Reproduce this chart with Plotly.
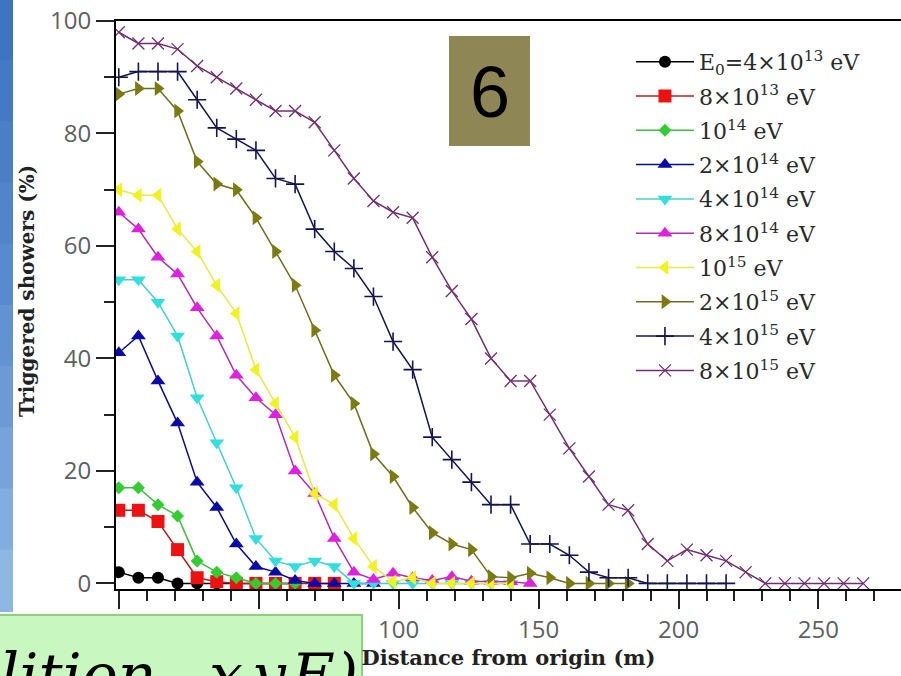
import plotly.graph_objects as go

# ---------------- data ----------------
distance_m = [0, 7, 14, 21, 28, 35, 42, 49, 56, 63, 70, 77, 84, 91, 98, 105, 112,
              119, 126, 133, 140, 147, 154, 161, 168, 175, 182, 189, 196, 203, 210,
              217, 224, 231, 238, 245, 252, 259, 266]

e4e13 = [2, 1, 1, 0, 0, 0, 0, 0, 0, 0]
e8e13 = [13, 13, 11, 6, 1, 0.3, 0, 0, 0, 0, 0, 0]
e1e14 = [17, 17, 14, 12, 4, 2, 1, 0, 0, 0]
e2e14 = [41, 44, 36, 28.5, 18, 13.5, 7, 3, 2, 0.5, 0, 0, 0, 0]
e4e14 = [54, 54, 50, 44, 33, 25, 17, 8, 4, 3, 4, 3, 0, 0, 0, 0, 0, 0, 0, 0, 0]
e8e14 = [66, 63, 58, 55, 49, 44, 37, 33, 30, 20, 16, 8, 2, 0.7, 1.8, 1, 0.5, 1.2,
         0.4, 0.4, 0.3, 0]
e1e15 = [70, 69, 69, 63, 59, 53, 48, 38, 32, 26, 16, 14, 8, 3, 0.3, 1, 0, 0, 0, 0, 0]
e2e15 = [87, 88, 88, 84, 75, 71, 70, 65, 59, 53, 45, 37, 32, 23, 19, 13.5, 9, 7, 6,
         1.2, 1, 1.8, 1, 0, 0, 0, 0]
e4e15 = [90, 91, 91, 91, 86, 81, 79, 77, 72, 71, 63, 59, 56, 51, 43, 38, 26, 22, 18,
         14, 14, 7, 7, 5, 2, 1, 1, 0, 0, 0, 0, 0]
e8e15 = [98, 96, 96, 95, 92, 90, 88, 86, 84, 84, 82, 77, 72, 68, 66, 65, 58, 52, 47,
         40, 36, 36, 30, 24, 19, 14, 13, 7, 4, 6, 5, 4, 2, 0, 0, 0, 0, 0, 0]

series_names = ["E<sub>0</sub>=4×10<sup>13</sup> eV", "8×10<sup>13</sup> eV",
                "10<sup>14</sup> eV", "2×10<sup>14</sup> eV", "4×10<sup>14</sup> eV",
                "8×10<sup>14</sup> eV", "10<sup>15</sup> eV", "2×10<sup>15</sup> eV",
                "4×10<sup>15</sup> eV", "8×10<sup>15</sup> eV"]
series_values = [e4e13, e8e13, e1e14, e2e14, e4e14, e8e14, e1e15, e2e15, e4e15, e8e15]

x_ticks = [0, 50, 100, 150, 200, 250]
y_ticks = [0, 20, 40, 60, 80, 100]

# ---------------- styles ----------------
styles = [
    dict(color="#000000", line="#000000", symbol="circle", size=12, lw=0),
    dict(color="#ee1111", line="#b02020", symbol="square", size=13, lw=0),
    dict(color="#33cc33", line="#44bb44", symbol="diamond", size=10, lw=0),
    dict(color="#0a0aa8", line="#0a0a90", symbol="triangle-up", size=13, lw=0),
    dict(color="#33dede", line="#44d0d0", symbol="triangle-down", size=13, lw=0),
    dict(color="#e020e0", line="#b030b0", symbol="triangle-up", size=13, lw=0),
    dict(color="#f2f222", line="#e8e84a", symbol="triangle-left", size=13, lw=0),
    dict(color="#7b7b12", line="#6e6e20", symbol="triangle-right", size=13, lw=0),
    dict(color="#141450", line="#141450", symbol="cross-thin", size=13, lw=1.6),
    dict(color="#703070", line="#703070", symbol="x-thin", size=12, lw=1.3),
]

fig = go.Figure()
for name, vals, st in zip(series_names, series_values, styles):
    marker = dict(color=st["color"], symbol=st["symbol"], size=st["size"])
    if st["lw"]:
        marker["line"] = dict(color=st["color"], width=st["lw"])
    fig.add_trace(go.Scatter(
        x=distance_m[:len(vals)], y=vals, mode="lines+markers", name=name,
        legendgroup=name,
        line=dict(color=st["line"], width=1.5),
        marker=marker,
    ))

fig.update_layout(
    width=901, height=676,
    margin=dict(l=116, r=0, t=21, b=87),
    paper_bgcolor="white", plot_bgcolor="white",
    showlegend=True,
    legend=dict(x=0.656, y=0.965, xanchor="left", yanchor="top",
                bgcolor="rgba(0,0,0,0)", itemwidth=58, tracegroupgap=2.7,
                font=dict(family="DejaVu Serif", size=22, color="#2a2a2a")),
    xaxis=dict(range=[-1.0, 279.5], showgrid=False, zeroline=False,
               showline=True, linecolor="black", linewidth=2, mirror=True,
               tickmode="array", tickvals=x_ticks,
               ticks="outside", ticklen=18, tickwidth=2, tickcolor="#222",
               minor=dict(dtick=10, ticks="outside", ticklen=10, tickwidth=2,
                          tickcolor="#222", showgrid=False),
               tickfont=dict(family="Open Sans", size=24, color="#5f5f5f"),
               title=dict(text="<b>Distance from origin (m)</b>", standoff=4,
                          font=dict(family="DejaVu Serif", size=21, color="#222"))),
    yaxis=dict(range=[-1.0, 100], showgrid=False, zeroline=False,
               showline=True, linecolor="black", linewidth=2, mirror=False,
               tickmode="array", tickvals=y_ticks,
               ticks="outside", ticklen=18, tickwidth=2, tickcolor="#222",
               minor=dict(dtick=10, ticks="outside", ticklen=10, tickwidth=2,
                          tickcolor="#222", showgrid=False),
               tickfont=dict(family="Open Sans", size=24, color="#5f5f5f")),
)

# y-axis title as annotation (placed like the reference)
fig.add_annotation(xref="paper", yref="paper", x=-0.113, y=0.525,
                   text="<b>Triggered showers (%)</b>", showarrow=False,
                   textangle=-90, xanchor="center", yanchor="middle",
                   font=dict(family="DejaVu Serif", size=20, color="#222"))

# left blue slide bar (stacked to mimic gradient)
bar_cols = ["#3f74c2", "#4479c5", "#4a7fc8", "#5184cb", "#588acf", "#6192d3",
            "#6b9ad7", "#76a3db", "#82addf", "#8fb7e4"]
seg = 612 / len(bar_cols)
for i, c in enumerate(bar_cols):
    fig.add_shape(type="rect", xref="paper", yref="paper",
                  x0=-116/785, x1=-103/785,
                  y0=(589 - seg * (i + 1)) / 568, y1=(589 - seg * i) / 568 + 0.002,
                  fillcolor=c, line=dict(width=0), layer="above")

# olive "6" box
fig.add_shape(type="rect", xref="paper", yref="paper",
              x0=(449 - 116) / 785, x1=(530 - 116) / 785,
              y0=(589 - 146) / 568, y1=(589 - 36) / 568,
              fillcolor="#8f8655", line=dict(width=0), layer="above")
fig.add_annotation(xref="paper", yref="paper", x=(489.5 - 116) / 785, y=(589 - 92) / 568,
                   text="6", showarrow=False, xanchor="center", yanchor="middle",
                   font=dict(family="Liberation Sans", size=72, color="black"))

# green formula box (bottom-left)
fig.add_shape(type="rect", xref="paper", yref="paper",
              x0=-130 / 785, x1=(362 - 116) / 785,
              y0=(589 - 700) / 568, y1=(589 - 615) / 568,
              fillcolor="#c8f7c0", line=dict(color="#8fd080", width=2), layer="above")
for txt, xpos, anchor in [("lition", -2, "left"), ("x", 226, "center"),
                          ("y", 268, "center"), ("E)", 288, "left")]:
    fig.add_annotation(xref="paper", yref="paper", x=(xpos - 116) / 785,
                       y=(589 - 712) / 568, text="<i>" + txt + "</i>",
                       showarrow=False, xanchor=anchor, yanchor="bottom",
                       font=dict(family="DejaVu Serif", size=60, color="black"))

fig.write_html("out.html")
